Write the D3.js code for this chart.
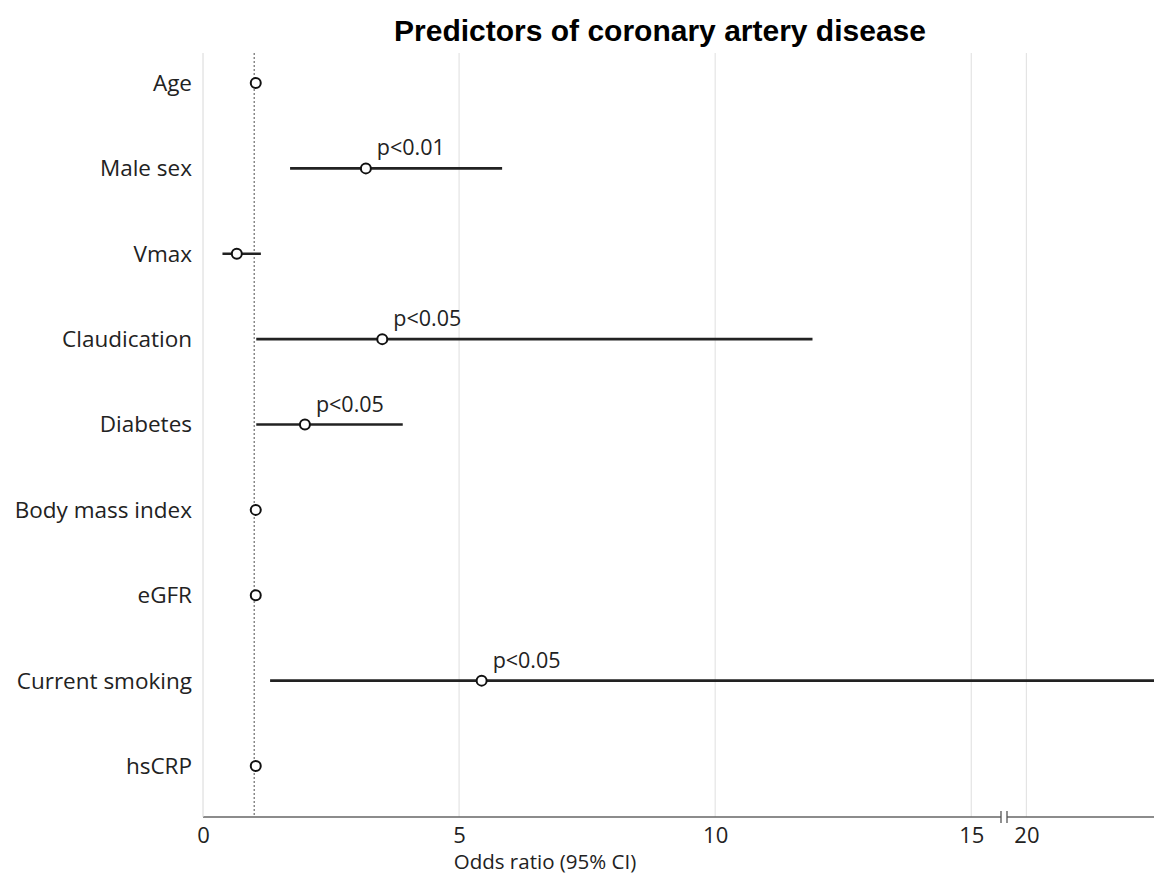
<!DOCTYPE html>
<html>
<head>
<meta charset="utf-8">
<script src="https://cdn.jsdelivr.net/npm/d3@7"></script>
<style>
  body { margin: 0; background: #fff; }
  svg { display: block; }
</style>
</head>
<body>
<svg id="chart"></svg>
<script>
// forest plot data
const predictors = ['Age', 'Male sex', 'Vmax', 'Claudication', 'Diabetes', 'Body mass index', 'eGFR', 'Current smoking', 'hsCRP'];
const oddsRatio = [1.03, 3.18, 0.66, 3.5, 1.99, 1.03, 1.03, 5.44, 1.03];
const ciLow = [1.0, 1.7, 0.38, 1.04, 1.04, 1.0, 1.0, 1.31, 1.0];
const ciHigh = [1.05, 5.84, 1.13, 11.9, 3.9, 1.05, 1.05, 24, 1.05];
const pLabels = ['', 'p<0.01', '', 'p<0.05', 'p<0.05', '', '', 'p<0.05', ''];
const tickValues = [0, 5, 10, 15, 20];

const width = 1154;
const height = 875;
const margin = {top: 53, right: 0, bottom: 58, left: 203};
const labelFont = '"Open Sans", Lato, sans-serif';

const svg = d3.select('#chart')
    .attr('width', width)
    .attr('height', height);

// broken axis: 15.6 .. 19.6 is squeezed into the break gap
const x = d3.scaleLinear()
    .domain([0, 15.6, 19.6, 22.5])
    .range([margin.left, 1002, 1006, width]);

const y = d3.scalePoint()
    .domain(predictors)
    .range([83, 766]);

const bottom = height - margin.bottom;

svg.append('defs').append('clipPath').attr('id', 'plot-clip')
    .append('rect')
    .attr('x', margin.left).attr('y', margin.top)
    .attr('width', width - margin.left).attr('height', bottom - margin.top);

// grid
svg.append('g')
    .selectAll('line')
    .data(tickValues)
    .enter().append('line')
    .attr('x1', d => x(d)).attr('x2', d => x(d))
    .attr('y1', margin.top).attr('y2', bottom)
    .style('stroke', '#e4e4e4')
    .style('stroke-width', 1.2);

// reference line at OR = 1
svg.append('line')
    .attr('x1', x(1)).attr('x2', x(1))
    .attr('y1', margin.top).attr('y2', bottom)
    .style('stroke', '#777')
    .style('stroke-width', 1.3)
    .style('stroke-dasharray', '2,2');

// x axis
const xAxis = svg.append('g')
    .attr('transform', `translate(0, ${bottom})`)
    .call(d3.axisBottom(x).tickValues(tickValues).tickSize(0).tickPadding(10));
xAxis.select('.domain').remove();
xAxis.selectAll('text')
    .style('font-family', labelFont)
    .style('font-size', '22px')
    .style('fill', '#222');

svg.append('line')
    .attr('x1', margin.left).attr('x2', x(15.6) - 1)
    .attr('y1', bottom).attr('y2', bottom)
    .style('stroke', '#666').style('stroke-width', 1.5);
svg.append('line')
    .attr('x1', x(19.6) + 1).attr('x2', width)
    .attr('y1', bottom).attr('y2', bottom)
    .style('stroke', '#666').style('stroke-width', 1.5);
svg.append('g')
    .selectAll('line')
    .data([15.6, 19.6])
    .enter().append('line')
    .attr('x1', d => x(d) + (d < 18 ? -1 : 1)).attr('x2', d => x(d) + (d < 18 ? -1 : 1))
    .attr('y1', bottom - 6).attr('y2', bottom + 6)
    .style('stroke', '#555').style('stroke-width', 1.3);

// faint y axis line
svg.append('line')
    .attr('x1', margin.left).attr('x2', margin.left)
    .attr('y1', margin.top).attr('y2', bottom)
    .style('stroke', '#e8e8e8');

// category labels
svg.append('g')
    .selectAll('text')
    .data(predictors)
    .enter().append('text')
    .attr('x', 192)
    .attr('y', d => y(d))
    .attr('dy', '0.35em')
    .attr('text-anchor', 'end')
    .style('font-family', labelFont)
    .style('font-size', '22.5px')
    .style('fill', '#222')
    .text(d => d);

const rows = predictors.map((p, i) => ({
    name: p, or: oddsRatio[i], lo: ciLow[i], hi: ciHigh[i], p: pLabels[i]
}));

const node = svg.append('g')
    .attr('clip-path', 'url(#plot-clip)')
    .selectAll('g')
    .data(rows)
    .enter().append('g');

node.append('line')
    .attr('x1', d => x(d.lo)).attr('x2', d => x(d.hi))
    .attr('y1', d => y(d.name)).attr('y2', d => y(d.name))
    .style('stroke', '#222')
    .style('stroke-width', 2.6);

node.append('circle')
    .attr('cx', d => x(d.or))
    .attr('cy', d => y(d.name))
    .attr('r', 5)
    .style('fill', '#fff')
    .style('stroke', '#111')
    .style('stroke-width', 2);

svg.append('g')
    .selectAll('text')
    .data(rows.filter(d => d.p))
    .enter().append('text')
    .attr('x', d => x(d.or) + 11)
    .attr('y', d => y(d.name) - 13)
    .style('font-family', labelFont)
    .style('font-size', '21.5px')
    .style('fill', '#222')
    .text(d => d.p);

// title + axis title
svg.append('text')
    .attr('x', 660)
    .attr('y', 41)
    .attr('text-anchor', 'middle')
    .style('font-family', '"Liberation Sans", Arial, sans-serif')
    .style('font-weight', 'bold')
    .style('font-size', '30px')
    .style('fill', '#000')
    .text('Predictors of coronary artery disease');

svg.append('text')
    .attr('x', 545)
    .attr('y', 869)
    .attr('text-anchor', 'middle')
    .style('font-family', labelFont)
    .style('font-size', '20.5px')
    .style('fill', '#222')
    .text('Odds ratio (95% CI)');
</script>
</body>
</html>
